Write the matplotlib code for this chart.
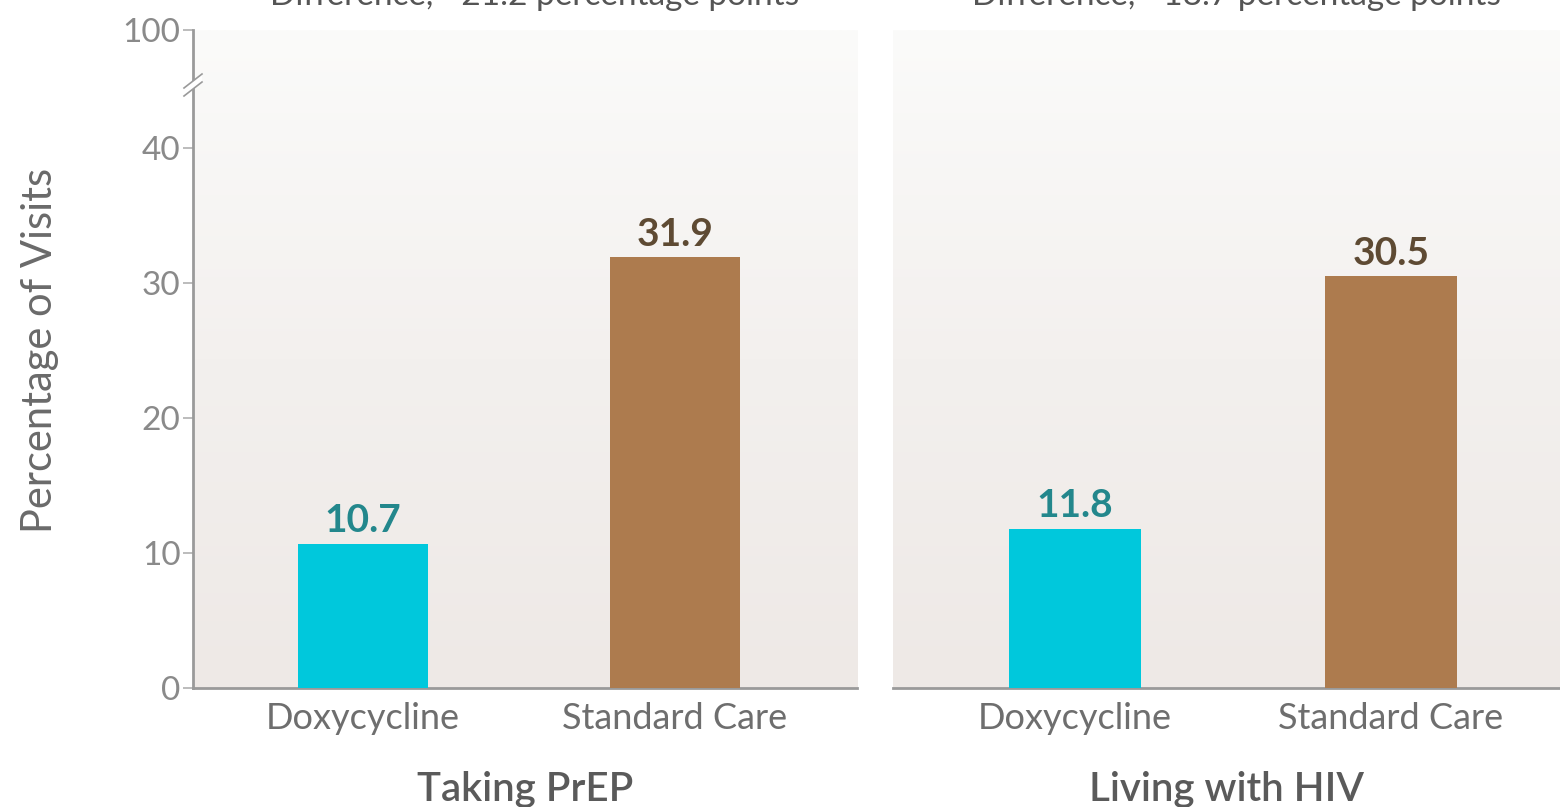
import numpy as np
import matplotlib.pyplot as plt
from matplotlib.colors import LinearSegmentedColormap

plt.rcParams['font.family'] = ['Lato', 'DejaVu Sans']

# data
groups = ["Taking PrEP", "Living with HIV"]
categories = ["Doxycycline", "Standard Care"]
doxy_values = [10.7, 11.8]
standard_values = [31.9, 30.5]
differences = ["\u221221.2", "\u221218.7"]

bar_colors = ["#00c8dc", "#ad7b4e"]
label_colors = ["#23878c", "#5e4a33"]
tick_grey = "#8a8a8a"
spine_grey = "#9a9a9a"

W, H = 1560, 807
fig = plt.figure(figsize=(W / 100, H / 100), dpi=100)

def fx(px):
    return px / W

def fy(py):
    return 1 - py / H

grad = LinearSegmentedColormap.from_list("bg", ["#fbfbfa", "#f3f0ee", "#eee9e6"])

# panel geometry in pixels: left, right, bar centre of first bar, px per unit
panels = [(193, 857, 363, 312), (893, 1560, 1075, 316)]
y_top, y_break, y_zero = 30, 85, 688
px_per_val = (y_zero - 148) / 40.0

for i, (x0, x1, c0, ppu) in enumerate(panels):
    # background gradient
    bg = fig.add_axes([fx(x0), fy(y_zero), fx(x1 - x0), (y_zero - y_top) / H], zorder=0)
    bg.imshow(np.linspace(0, 1, 256).reshape(-1, 1), aspect="auto", cmap=grad,
              extent=[0, 1, 0, 1], origin="upper")
    bg.axis("off")

    # main (lower) axes
    ax = fig.add_axes([fx(x0), fy(y_zero), fx(x1 - x0), (y_zero - y_break) / H], zorder=2)
    ax.patch.set_alpha(0)
    xa = -(c0 - x0) / ppu
    xb = xa + (x1 - x0) / ppu
    ax.set_xlim(xa, xb)
    ax.set_ylim(0, (y_zero - y_break) / px_per_val)
    vals = [doxy_values[i], standard_values[i]]
    ax.bar([0, 1], vals, width=0.415, color=bar_colors, zorder=3)
    for xpos, v, col in zip([0, 1], vals, label_colors):
        ax.text(xpos, v + 0.4, f"{v:.1f}", ha="center", va="bottom",
                fontsize=28, fontweight="bold", color=col)
    ax.set_xticks([0, 1])
    ax.set_xticklabels(categories, fontsize=26, color="#6e6e6e")
    ax.tick_params(axis="x", length=0, pad=10)
    for s in ["top", "right"]:
        ax.spines[s].set_visible(False)
    ax.spines["bottom"].set_color(spine_grey)
    ax.spines["bottom"].set_linewidth(2)
    ax.text(0.5, -0.138, groups[i], transform=ax.transAxes, ha="center", va="top",
            fontsize=29, fontweight="semibold", color="#5a5a5a")

    if i == 0:
        ax.spines["left"].set_color(spine_grey)
        ax.spines["left"].set_linewidth(2)
        ax.set_yticks([0, 10, 20, 30, 40])
        ax.tick_params(axis="y", length=7, width=1.2, color="#b0b0b0",
                       labelsize=24, labelcolor=tick_grey, pad=2)
        # upper axes above the break
        ax_up = fig.add_axes([fx(x0), fy(y_break), fx(x1 - x0), (y_break - y_top) / H], zorder=2)
        ax_up.patch.set_alpha(0)
        ax_up.set_ylim(96, 100)
        ax_up.set_xlim(xa, xb)
        ax_up.set_yticks([100])
        ax_up.set_xticks([])
        for s in ["top", "right", "bottom"]:
            ax_up.spines[s].set_visible(False)
        ax_up.spines["left"].set_color(spine_grey)
        ax_up.spines["left"].set_linewidth(2)
        ax_up.tick_params(axis="y", length=7, width=1.2, color="#b0b0b0",
                          labelsize=24, labelcolor=tick_grey, pad=2)
        # break mark
        bx, by = fx(x0), fy(y_break)
        dx, dy = fx(9), 7 / H
        gap = 4 / H
        fig.add_artist(plt.Polygon([[bx - dx, by - dy - gap], [bx + dx, by + dy - gap],
                                    [bx + dx, by + dy + gap], [bx - dx, by - dy + gap]],
                                   closed=True, facecolor="white", edgecolor="none",
                                   transform=fig.transFigure, zorder=5))
        for off in (-gap, gap):
            fig.add_artist(plt.Line2D([bx - dx, bx + dx], [by - dy + off, by + dy + off],
                                      color=spine_grey, lw=1.2, transform=fig.transFigure, zorder=6))
    else:
        ax.spines["left"].set_visible(False)
        ax.set_yticks([])

    # difference heading, clipped at the top edge as in the source image
    fig.text(fx((x0 + x1) / 2 + 10), fy(5),
             f"Difference, {differences[i]} percentage points",
             ha="center", va="baseline", fontsize=24, color="#555555")

fig.text(fx(40), fy(350), "Percentage of Visits", rotation=90, ha="center", va="center",
         fontsize=30, color="#6a6a6a")

fig.savefig("out.png", dpi=100)
